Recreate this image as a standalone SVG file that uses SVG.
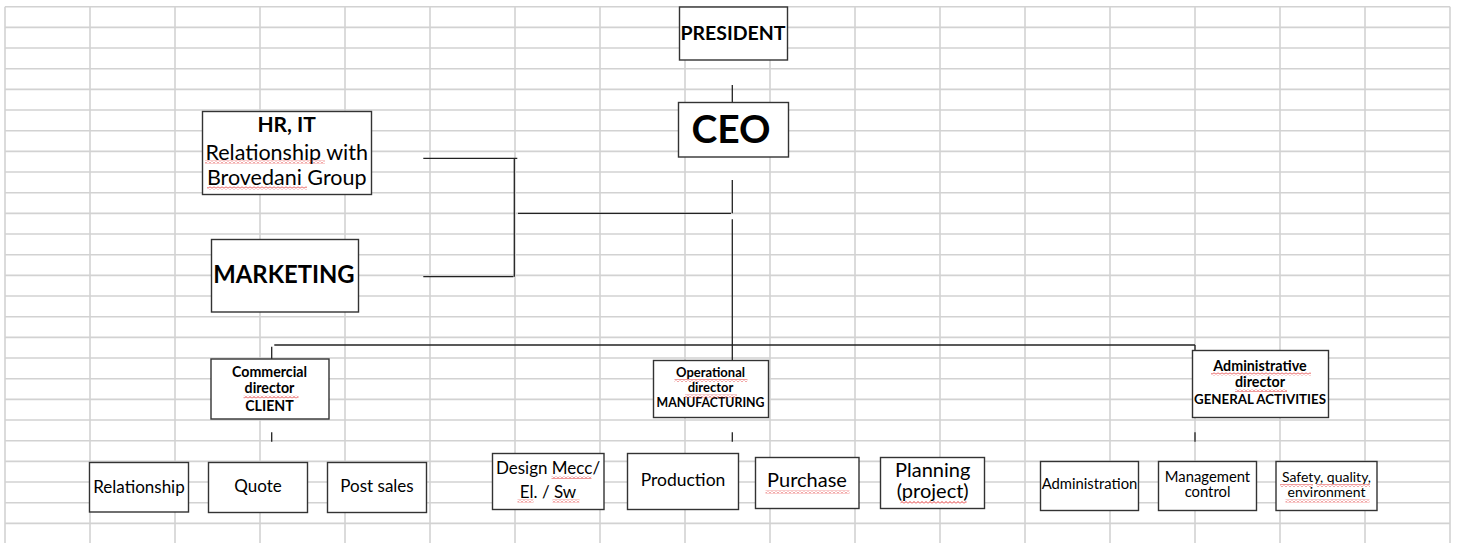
<svg xmlns="http://www.w3.org/2000/svg" width="1458" height="543" viewBox="0 0 1458 543">
<style>
.grid line{stroke:#d2d2d2;stroke-width:1.6}
.box{fill:#fff;stroke:#333;stroke-width:1.4}
.conn line{stroke:#222;stroke-width:1.3}
text{font-family:Lato,"Open Sans","Liberation Sans",sans-serif;fill:#000;text-anchor:middle}
.b{font-weight:bold}
.sq{fill:url(#sq)}
</style>
<defs>
<pattern id="sq" width="4" height="3" patternUnits="userSpaceOnUse">
<path d="M0,2.5 L2,0.5 L4,2.5" fill="none" stroke="#e02020" stroke-width="0.9"/>
</pattern>
</defs>
<rect width="1458" height="543" fill="#fff"/>
<g class="grid">
<line x1="5" y1="6.7" x2="1450" y2="6.7"/><line x1="5" y1="27.4" x2="1450" y2="27.4"/><line x1="5" y1="48" x2="1450" y2="48"/><line x1="5" y1="68.7" x2="1450" y2="68.7"/><line x1="5" y1="89.4" x2="1450" y2="89.4"/><line x1="5" y1="110" x2="1450" y2="110"/><line x1="5" y1="130.7" x2="1450" y2="130.7"/><line x1="5" y1="151.4" x2="1450" y2="151.4"/><line x1="5" y1="172" x2="1450" y2="172"/><line x1="5" y1="192.7" x2="1450" y2="192.7"/><line x1="5" y1="213.4" x2="1450" y2="213.4"/><line x1="5" y1="234" x2="1450" y2="234"/><line x1="5" y1="254.7" x2="1450" y2="254.7"/><line x1="5" y1="275.4" x2="1450" y2="275.4"/><line x1="5" y1="296" x2="1450" y2="296"/><line x1="5" y1="316.7" x2="1450" y2="316.7"/><line x1="5" y1="337.4" x2="1450" y2="337.4"/><line x1="5" y1="358" x2="1450" y2="358"/><line x1="5" y1="378.7" x2="1450" y2="378.7"/><line x1="5" y1="399.4" x2="1450" y2="399.4"/><line x1="5" y1="420" x2="1450" y2="420"/><line x1="5" y1="440.7" x2="1450" y2="440.7"/><line x1="5" y1="461.4" x2="1450" y2="461.4"/><line x1="5" y1="482" x2="1450" y2="482"/><line x1="5" y1="502.7" x2="1450" y2="502.7"/><line x1="5" y1="523.4" x2="1450" y2="523.4"/>
<line x1="5" y1="6.7" x2="5" y2="543"/><line x1="90" y1="6.7" x2="90" y2="543"/><line x1="175" y1="6.7" x2="175" y2="543"/><line x1="260" y1="6.7" x2="260" y2="543"/><line x1="345" y1="6.7" x2="345" y2="543"/><line x1="430" y1="6.7" x2="430" y2="543"/><line x1="515" y1="6.7" x2="515" y2="543"/><line x1="600" y1="6.7" x2="600" y2="543"/><line x1="685" y1="6.7" x2="685" y2="543"/><line x1="770" y1="6.7" x2="770" y2="543"/><line x1="855" y1="6.7" x2="855" y2="543"/><line x1="940" y1="6.7" x2="940" y2="543"/><line x1="1025" y1="6.7" x2="1025" y2="543"/><line x1="1110" y1="6.7" x2="1110" y2="543"/><line x1="1195" y1="6.7" x2="1195" y2="543"/><line x1="1280" y1="6.7" x2="1280" y2="543"/><line x1="1365" y1="6.7" x2="1365" y2="543"/><line x1="1450" y1="6.7" x2="1450" y2="543"/>
</g>
<g id="connectors" class="conn">
<line x1="732.3" y1="85" x2="732.3" y2="102.5"/>
<line x1="732.3" y1="180" x2="732.3" y2="213.3"/>
<line x1="518" y1="213.3" x2="731" y2="213.3"/>
<line x1="514.3" y1="158" x2="514.3" y2="276.7"/>
<line x1="423.3" y1="158.3" x2="517.3" y2="158.3"/>
<line x1="423.3" y1="276.7" x2="513.5" y2="276.7"/>
<line x1="732.3" y1="219.3" x2="732.3" y2="360.5"/>
<line x1="274.3" y1="345" x2="1195" y2="345"/>
<line x1="271.7" y1="346.7" x2="271.7" y2="359"/>
<line x1="1195" y1="345" x2="1195" y2="350.5"/>
<line x1="271.7" y1="432.3" x2="271.7" y2="441.7"/>
<line x1="732.3" y1="432.3" x2="732.3" y2="441.7"/>
<line x1="1195" y1="432.3" x2="1195" y2="441.7"/>
</g>
<g id="president"><rect class="box" x="679.5" y="7" width="108" height="53"/><text class="b" x="733" y="39.5" font-size="19.5">PRESIDENT</text></g>
<g id="ceo"><rect class="box" x="678.5" y="102.5" width="110" height="54.5"/><text class="b" x="731" y="142.7" font-size="39">CEO</text></g>
<g id="hr-it"><rect class="box" x="202.5" y="111.5" width="169" height="83"/>
<text class="b" x="286.7" y="132.3" font-size="21">HR, IT</text>
<text x="286.7" y="159.5" font-size="21.5">Relationship with</text>
<text x="286.7" y="184.5" font-size="21.5">Brovedani Group</text>
<rect class="sq" x="205" y="160.5" width="120" height="3"/><rect class="sq" x="207" y="186.5" width="100" height="3"/></g>
<g id="marketing"><rect class="box" x="211.5" y="239.5" width="147" height="72.5"/><text class="b" x="284" y="282.7" font-size="23.8">MARKETING</text></g>
<g id="commercial"><rect class="box" x="211" y="359" width="118" height="60" stroke-width="2"/>
<text class="b" x="269.5" y="376.7" font-size="14.2">Commercial</text>
<text class="b" x="269.5" y="393.3" font-size="14.2">director</text>
<text class="b" x="269.5" y="410.5" font-size="14.2">CLIENT</text>
<rect class="sq" x="243.5" y="395.5" width="55" height="3"/></g>
<g id="operational"><rect class="box" x="653.5" y="360.5" width="115" height="57"/>
<text class="b" x="710.5" y="376.7" font-size="13">Operational</text>
<text class="b" x="710.5" y="392.3" font-size="13">director</text>
<text class="b" x="710.5" y="407.3" font-size="12.3">MANUFACTURING</text>
<rect class="sq" x="674.5" y="379" width="73" height="3"/><rect class="sq" x="685" y="394.5" width="52" height="3"/></g>
<g id="administrative"><rect class="box" x="1192.5" y="350.5" width="136" height="67"/>
<text class="b" x="1260" y="370.7" font-size="14.3">Administrative</text>
<text class="b" x="1260" y="386.7" font-size="14.3">director</text>
<text class="b" x="1260" y="404" font-size="13.3">GENERAL ACTIVITIES</text>
<rect class="sq" x="1211" y="372.5" width="100" height="3"/><rect class="sq" x="1235" y="389" width="52" height="3"/></g>
<g id="relationship"><rect class="box" x="89.5" y="462.5" width="99" height="49.5"/><text x="139" y="492.7" font-size="17">Relationship</text></g>
<g id="quote"><rect class="box" x="208.5" y="462.5" width="99" height="50"/><text x="258" y="492.3" font-size="17">Quote</text></g>
<g id="post-sales"><rect class="box" x="327.5" y="462.5" width="99" height="50"/><text x="377" y="492.3" font-size="17">Post sales</text></g>
<g id="design"><rect class="box" x="492.5" y="453.5" width="111.5" height="56"/>
<text x="548" y="474.3" font-size="17">Design Mecc/</text>
<text x="548" y="498.3" font-size="17">El. / Sw</text>
<rect class="sq" x="551.5" y="476" width="40" height="3"/><rect class="sq" x="517.5" y="499.5" width="16" height="3"/><rect class="sq" x="552.5" y="499.5" width="27" height="3"/></g>
<g id="production"><rect class="box" x="627.5" y="453.5" width="111" height="56"/><text x="683" y="485.7" font-size="17.5">Production</text></g>
<g id="purchase"><rect class="box" x="755.5" y="457.5" width="103.5" height="51"/><text x="807" y="487.3" font-size="20">Purchase</text>
<rect class="sq" x="765.5" y="490.5" width="84" height="3"/></g>
<g id="planning"><rect class="box" x="880.5" y="457.5" width="104" height="51"/>
<text x="932.7" y="476.7" font-size="20">Planning</text>
<text x="932.7" y="498.3" font-size="20">(project)</text>
<rect class="sq" x="900.5" y="501" width="66" height="3"/></g>
<g id="administration"><rect class="box" x="1040.5" y="461.5" width="98" height="49"/><text x="1089.5" y="488.7" font-size="14.8">Administration</text></g>
<g id="management"><rect class="box" x="1158.5" y="461.5" width="98" height="49"/>
<text x="1207.5" y="481.7" font-size="14.8">Management</text>
<text x="1207.5" y="497.3" font-size="14.8">control</text></g>
<g id="safety"><rect class="box" x="1276" y="461.5" width="101" height="49"/>
<text x="1326.5" y="481.7" font-size="14">Safety, quality,</text>
<text x="1326.5" y="497.3" font-size="14">environment</text>
<rect class="sq" x="1280" y="484" width="33" height="3"/><rect class="sq" x="1316.5" y="484" width="53.5" height="3"/><rect class="sq" x="1285.5" y="499.5" width="84" height="3"/></g>
</svg>
